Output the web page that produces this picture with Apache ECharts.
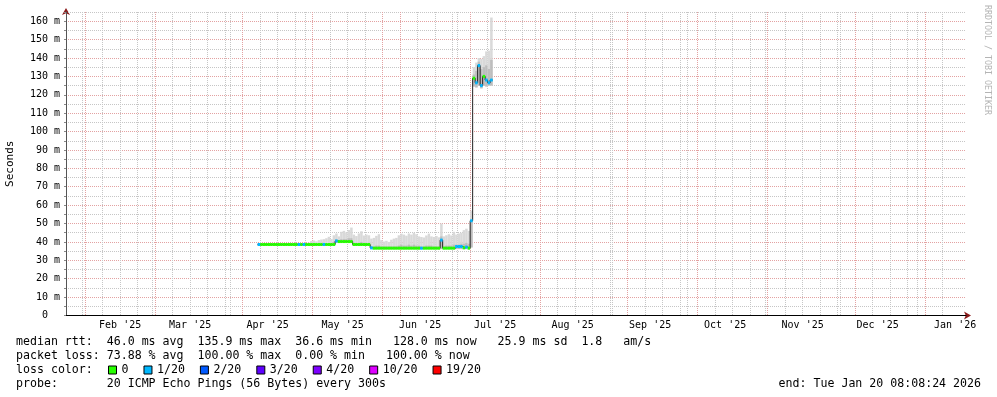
<!DOCTYPE html>
<html><head><meta charset="utf-8">
<script src="https://cdn.jsdelivr.net/npm/echarts@6/dist/echarts.min.js"></script>
<style>html,body{margin:0;padding:0;background:#fff}#c{width:997px;height:397px}</style>
</head><body><div id="c"></div>
<script>
// ---- time frame ----
const startTime = Date.UTC(2025, 0, 25, 8, 8, 24);
const endTime = Date.UTC(2026, 0, 20, 8, 8, 24);
const firstSample = Date.UTC(2025, 3, 12);
const DAY = 86400000;

// ---- data (one sample per day from Apr 12 2025), values in ms ----
const median = [
  38.6,38.6,38.6,38.6,38.6,38.6,38.6,38.6,38.6,38.6,
  38.6,38.6,38.6,38.6,38.6,38.6,38.6,38.6,38.6,38.6,
  38.6,38.6,38.6,38.6,38.6,38.6,38.6,38.6,38.6,38.6,
  38.6,40.5,40.2,40.2,40.2,40.2,40.2,40.2,38.6,38.6,
  38.6,38.6,38.6,38.6,38.6,36.8,36.6,36.6,36.6,36.6,
  36.6,36.6,36.6,36.6,36.6,36.6,36.6,36.6,36.6,36.6,
  36.6,36.6,36.6,36.6,36.6,36.6,36.6,36.6,36.6,36.6,
  36.6,36.6,36.6,41.0,36.6,36.6,36.6,36.6,36.6,37.5,
  37.5,37.5,36.8,37.2,36.6,51.5,129.0,126.5,135.9,125.0,
  130.0,128.0,126.5,128.0
];
// lost pings out of 20
const loss = [
  1,0,0,0,0,0,0,0,0,0,
  0,0,0,0,0,0,1,0,1,0,
  0,0,0,0,0,0,1,0,0,0,
  0,1,0,0,0,0,0,0,0,0,
  0,0,0,0,0,1,0,0,0,0,
  0,0,0,0,0,0,0,0,0,0,
  0,0,0,0,0,1,0,0,0,0,
  0,0,0,1,0,0,0,0,0,1,
  1,1,0,1,0,1,0,1,1,1,
  0,1,1,1
];
// smoke: full spread (lo..hi) and denser core (lo..coreHi)
const smokeLo = [
  38.0,38.0,38.0,38.0,38.0,38.0,38.0,38.0,38.0,38.0,
  38.0,38.0,38.0,38.0,38.0,38.0,38.0,38.0,38.0,38.0,
  38.0,38.0,38.0,38.0,38.0,38.0,38.0,38.0,38.0,38.0,
  38.0,39.6,39.6,39.6,39.6,39.6,39.6,39.6,38.0,38.0,
  38.0,38.0,38.0,38.0,38.0,36.1,36.1,36.1,36.1,36.1,
  36.1,36.1,36.1,36.1,36.1,36.1,36.1,36.1,36.1,36.1,
  36.1,36.1,36.1,36.1,36.1,36.1,36.1,36.1,36.1,36.1,
  36.1,36.1,36.1,36.1,36.1,36.1,36.1,36.1,36.1,36.1,
  36.1,36.1,36.1,36.1,36.1,37.0,124.5,124.0,125.0,123.5,
  125.0,124.5,125.0,125.0
];
const smokeCoreHi = [
  39.0,39.0,39.0,39.0,39.0,39.0,39.0,39.0,39.0,39.0,
  39.0,39.0,39.0,39.0,39.0,39.0,39.0,39.0,39.0,39.0,
  39.0,39.0,39.0,39.0,39.0,39.0,39.0,39.0,39.0,39.0,
  40.0,41.5,41.0,41.5,41.5,41.5,42.0,42.0,39.5,39.5,
  39.5,40.0,39.5,39.5,39.5,37.5,37.5,38.0,38.0,37.5,
  37.5,37.5,37.5,37.5,37.5,37.5,38.0,38.5,38.0,38.0,
  38.5,38.0,38.5,38.0,38.0,37.5,37.5,38.0,38.0,38.0,
  37.5,37.5,37.5,43.0,37.5,38.0,38.0,38.0,38.5,38.5,
  38.5,39.0,39.0,39.5,39.0,52.0,131.0,133.0,138.0,134.0,
  135.0,136.0,134.0,139.0
];
const smokeHi = [
  39.3,39.3,39.3,39.3,39.3,39.3,39.3,39.3,39.3,39.3,
  39.3,39.3,39.3,39.3,39.3,39.3,39.3,39.3,39.3,39.3,
  39.6,40.5,40.8,40.3,41.0,41.3,41.5,42.0,42.8,41.6,
  43.6,44.6,43.0,45.5,46.0,45.2,46.5,47.8,44.0,43.2,
  44.6,45.8,43.5,44.0,43.6,41.8,42.2,43.3,44.2,41.0,
  40.2,40.6,40.0,41.2,41.8,42.2,43.6,44.5,44.0,43.4,
  44.6,44.0,45.0,44.2,43.0,42.7,42.4,43.5,44.5,43.0,
  42.7,43.2,42.5,50.0,43.0,43.6,44.2,43.5,45.5,44.0,
  44.6,45.0,46.4,47.2,46.0,57.0,135.0,137.5,140.0,139.5,
  141.0,143.6,144.0,162.0
];

// ---- legend / loss classes ----
const lossClasses = [0, 1, 2, 3, 4, 10, 19];
const lossLabels = ['0', '1/20', '2/20', '3/20', '4/20', '10/20', '19/20'];
const lossColors = ['#26ff00', '#00b8ff', '#0059ff', '#5e00ff', '#7e00ff', '#dd00ff', '#ff0000'];

const monthNames = ['Jan','Feb','Mar','Apr','May','Jun','Jul','Aug','Sep','Oct','Nov','Dec'];

const statLines = [
  'median rtt:  46.0 ms avg  135.9 ms max  36.6 ms min   128.0 ms now   25.9 ms sd  1.8   am/s',
  'packet loss: 73.88 % avg  100.00 % max  0.00 % min   100.00 % now'
];
const lossColorCaption = 'loss color:';
const probeLine = 'probe:       20 ICMP Echo Pings (56 Bytes) every 300s';
const endLine = 'end: Tue Jan 20 08:08:24 2026';
const creditLine = 'RRDTOOL / TOBI OETIKER';

// ---- axis helper positions (time grid: months = major, Sundays = minor) ----
const monthStarts = [], monthMids = [], weekStarts = [];
for (let y = 2025, m = 0; ; ) {
  const t = Date.UTC(y, m, 1);
  if (t > endTime) break;
  if (t >= startTime) monthStarts.push(t);
  const mid = t + 15 * DAY;
  if (mid >= startTime && mid <= endTime) monthMids.push(mid);
  m++; if (m === 12) { m = 0; y++; }
}
for (let t = Date.UTC(2025, 0, 26); t <= endTime; t += 7 * DAY) weekStarts.push(t);

const MONO = 'DejaVu Sans Mono';
const majorGrid = '#e3a2a2';
const minorGrid = '#c6c6c6';
const arrowColor = '#8b1a1a';

const gridTicks = monthStarts.concat(weekStarts).sort((a, b) => a - b);
const gridColors = gridTicks.map(t => monthStarts.indexOf(t) >= 0 ? majorGrid : minorGrid);

const sampleTimes = median.map((_, i) => firstSample + i * DAY);
const smokeData = median.map((_, i) => [sampleTimes[i], smokeLo[i], smokeHi[i], smokeCoreHi[i]]);
const lineData = median.map((m, i) => [sampleTimes[i], m]);
lineData.push([sampleTimes[median.length - 1] + DAY, median[median.length - 1]]);

function smokeItem(params, api) {
  const t = api.value(0), lo = api.value(1), hi = api.value(2), core = api.value(3);
  const p0 = api.coord([t, hi]);
  const p1 = api.coord([t + DAY, lo]);
  const pc = api.coord([t, core]);
  return { type: 'group', children: [
    { type: 'rect', shape: { x: p0[0], y: p0[1], width: p1[0] - p0[0], height: p1[1] - p0[1] }, style: { fill: '#d9d9d9' } },
    { type: 'rect', shape: { x: p0[0], y: pc[1], width: p1[0] - p0[0], height: p1[1] - pc[1] }, style: { fill: '#bdbdbd' } }
  ] };
}
function medItem(params, api) {
  const t = api.value(0), m = api.value(1);
  const p0 = api.coord([t, m]);
  const p1 = api.coord([t + DAY, m]);
  return { type: 'rect', shape: { x: p0[0], y: p0[1] - 1.5, width: p1[0] - p0[0], height: 3 },
           style: { fill: api.visual('color') } };
}

const lossSeries = lossClasses.map((c, k) => ({
  name: lossLabels[k], type: 'custom',
  renderItem: medItem, color: lossColors[k], z: 5,
  encode: { x: 0, y: 1 },
  data: median.map((m, i) => loss[i] === c ? [sampleTimes[i], m] : null).filter(d => d)
}));

const chart = echarts.init(document.getElementById('c'), null, { renderer: 'canvas' });
chart.setOption({
  animation: false,
  backgroundColor: '#ffffff',
  grid: { left: 66, top: 12, width: 900, height: 303.5, containLabel: false, outerBoundsMode: 'none' },
  xAxis: [{
    type: 'value', min: startTime, max: endTime, position: 'bottom', z: 1,
    axisLine: { show: true, lineStyle: { color: '#000', width: 1 } },
    axisTick: { show: false, customValues: gridTicks },
    axisLabel: {
      show: true, customValues: monthMids, margin: 5,
      fontFamily: MONO, fontSize: 10, color: '#000',
      formatter: v => { const d = new Date(v); return monthNames[d.getUTCMonth()] + " '" + String(d.getUTCFullYear()).slice(2); }
    },
    splitLine: { show: true, showMinLine: false, showMaxLine: false, lineStyle: { color: gridColors, type: [1, 1], width: 1 } }
  }, {
    // arrow head only
    type: 'value', min: startTime, max: endTime, position: 'bottom', z: 0,
    axisLine: { show: true, lineStyle: { color: arrowColor, width: 1 }, symbol: ['none', 'arrow'], symbolSize: [6, 7], symbolOffset: [0, 5] },
    axisTick: { show: false }, axisLabel: { show: false }, splitLine: { show: false }
  }],
  yAxis: [{
    type: 'value', min: 0, max: 165, interval: 5, position: 'left', z: 1,
    name: 'Seconds', nameLocation: 'middle', nameGap: 50, nameRotate: 90,
    nameTextStyle: { fontFamily: MONO, fontSize: 11, color: '#000' },
    axisLine: { show: true, lineStyle: { color: '#555', width: 1 } },
    axisTick: { show: true, length: 2, lineStyle: { color: '#888' } },
    axisLabel: {
      fontFamily: MONO, fontSize: 10, color: '#000', margin: 6,
      formatter: v => (v % 10 !== 0 || v > 160) ? '' : (v === 0 ? '0  ' : v + ' m')
    },
    splitLine: { show: true, lineStyle: { color: [majorGrid, minorGrid], type: [1, 1], width: 1 } }
  }, {
    // arrow head only
    type: 'value', min: 0, max: 165, position: 'left', z: 0,
    axisLine: { show: true, lineStyle: { color: arrowColor, width: 1 }, symbol: ['none', 'arrow'], symbolSize: [6, 7], symbolOffset: [0, 4] },
    axisTick: { show: false }, axisLabel: { show: false }, splitLine: { show: false }
  }],
  legend: {
    left: 108, top: 364, padding: 0, itemWidth: 8, itemHeight: 8, itemGap: 15,
    selectedMode: false,
    textStyle: { fontFamily: MONO, fontSize: 11.6, color: '#000' },
    data: lossLabels.map((n, k) => ({ name: n, icon: 'rect', itemStyle: { color: lossColors[k], borderColor: '#000', borderWidth: 1 } }))
  },
  series: [
    { name: 'smoke', type: 'custom', renderItem: smokeItem, encode: { x: 0, y: [1, 2] }, data: smokeData, z: 2, silent: true },
    { name: 'median', type: 'line', step: 'end', data: lineData, showSymbol: false, symbol: 'none',
      lineStyle: { color: '#202020', width: 1 }, z: 4, silent: true }
  ].concat(lossSeries),
  graphic: [
    { type: 'text', left: 16, top: 336, style: { text: statLines[0], font: '11.6px "DejaVu Sans Mono"', fill: '#000' } },
    { type: 'text', left: 16, top: 350, style: { text: statLines[1], font: '11.6px "DejaVu Sans Mono"', fill: '#000' } },
    { type: 'text', left: 16, top: 364, style: { text: lossColorCaption, font: '11.6px "DejaVu Sans Mono"', fill: '#000' } },
    { type: 'text', left: 16, top: 378, style: { text: probeLine, font: '11.6px "DejaVu Sans Mono"', fill: '#000' } },
    { type: 'text', right: 16, top: 378, style: { text: endLine, font: '11.6px "DejaVu Sans Mono"', fill: '#000' } },
    { type: 'text', x: 991, y: 5, rotation: -Math.PI / 2, style: { text: creditLine, font: '8.3px "DejaVu Sans Mono"', fill: '#b4b4b4', textAlign: 'left', textVerticalAlign: 'top' } }
  ]
});
</script></body></html>
